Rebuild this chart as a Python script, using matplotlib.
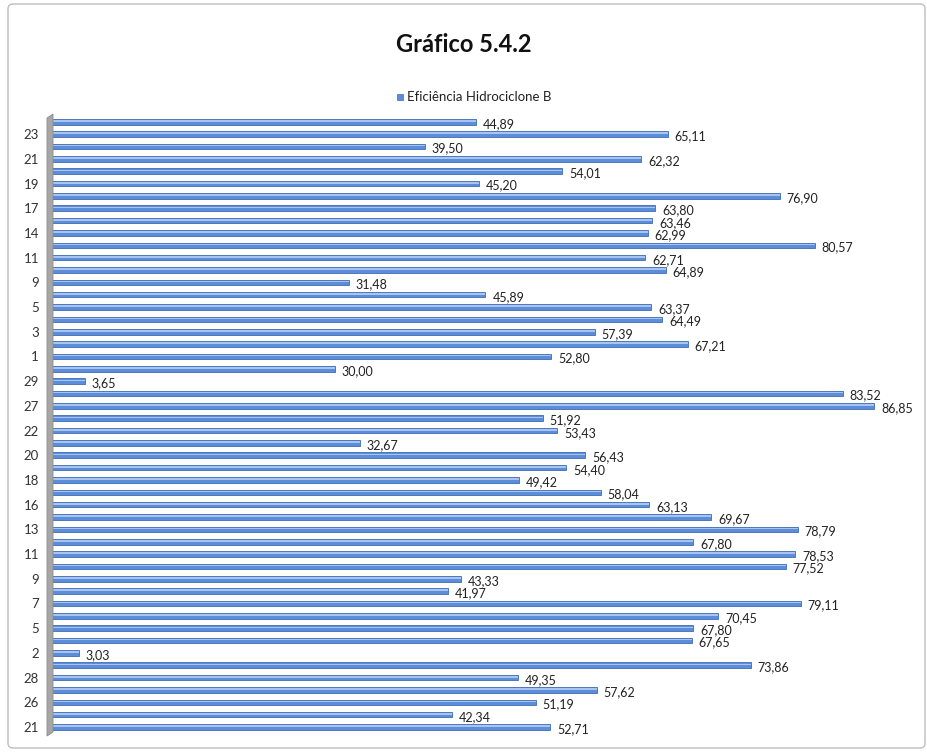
import matplotlib
matplotlib.use("Agg")
import matplotlib.pyplot as plt
from matplotlib.patches import FancyBboxPatch, Polygon

plt.rcParams['font.family'] = ['Lato', 'DejaVu Sans']

# values listed top to bottom as they appear in the chart
categories = ['24', '23', '22', '21', '20', '19', '18', '17', '15', '14',
              '12', '11', '10', '9', '6', '5', '4', '3', '2', '1',
              '30', '29', '28', '27', '23', '22', '21', '20', '19', '18',
              '17', '16', '15', '13', '12', '11', '10', '9', '8', '7',
              '6', '5', '3', '2', '1', '28', '27', '26', '25', '21']
eficiencia = [44.89, 65.11, 39.50, 62.32, 54.01, 45.20, 76.90, 63.80, 63.46, 62.99,
              80.57, 62.71, 64.89, 31.48, 45.89, 63.37, 64.49, 57.39, 67.21, 52.80,
              30.00, 3.65, 83.52, 86.85, 51.92, 53.43, 32.67, 56.43, 54.40, 49.42,
              58.04, 63.13, 69.67, 78.79, 67.80, 78.53, 77.52, 43.33, 41.97, 79.11,
              70.45, 67.80, 67.65, 3.03, 73.86, 49.35, 57.62, 51.19, 42.34, 52.71]
serie = 'Eficiência Hidrociclone B'
titulo = 'Gráfico 5.4.2'

W, H = 928, 752
fig = plt.figure(figsize=(W / 100, H / 100), dpi=100)
fig.patch.set_facecolor('white')

# outer chart frame
fig.patches.append(FancyBboxPatch((8 / W, 4 / H), 917 / W, 744 / H,
                                  boxstyle='round,pad=0,rounding_size=0.006',
                                  transform=fig.transFigure, fill=False,
                                  edgecolor='#BEBEBE', linewidth=1.0))

ax = fig.add_axes([50 / W, 1 - 734.4 / H, 854 / W, 620 / H])

n = len(eficiencia)
pos = list(range(n - 1, -1, -1))
ax.barh(pos, eficiencia, height=0.45, color='#5B8DDA', edgecolor='#3E6DB5', linewidth=0.6)
# light streak along each bar for the rounded look
ax.barh([p + 0.07 for p in pos], eficiencia, height=0.13, color='#A9C4EE', linewidth=0)

for p, v in zip(pos, eficiencia):
    ax.annotate(f'{v:.2f}'.replace('.', ','), (v, p), xytext=(5, -1.5),
                textcoords='offset points', va='center', ha='left',
                fontsize=9, color='#222222')

ax.set_xlim(0, 90)
ax.set_ylim(-0.6, n - 0.4)
tick_pos = pos[1::2]
ax.set_yticks(tick_pos)
ax.set_yticklabels(categories[1::2], fontsize=9.5, color='#333333')
ax.tick_params(axis='y', length=0, pad=8)
ax.set_xticks([])
for s in ax.spines.values():
    s.set_visible(False)

# grey side wall of the 3D plot
x0, x1 = 47 / W, 53 / W
yb, yt = 1 - 736 / H, 1 - 114 / H
fig.patches.append(Polygon([(x0, yb), (x1, yb + 4 / H), (x1, yt), (x0, yt - 4 / H)],
                           closed=True, transform=fig.transFigure,
                           facecolor='#A6A6A6', edgecolor='#8C8C8C', linewidth=0.6))

fig.text(0.5, 1 - 45 / H, titulo, ha='center', va='center',
         fontsize=17, fontweight='bold', color='#111111')

# legend entry
fig.patches.append(plt.Rectangle((397 / W, 1 - 100 / H), 6 / W, 6 / H,
                                 transform=fig.transFigure, facecolor='#5B8DDA',
                                 edgecolor='#3E6DB5', linewidth=0.5))
fig.text(407 / W, 1 - 97 / H, serie, ha='left', va='center', fontsize=9.5, color='#222222')

fig.savefig('out.png', dpi=100)
